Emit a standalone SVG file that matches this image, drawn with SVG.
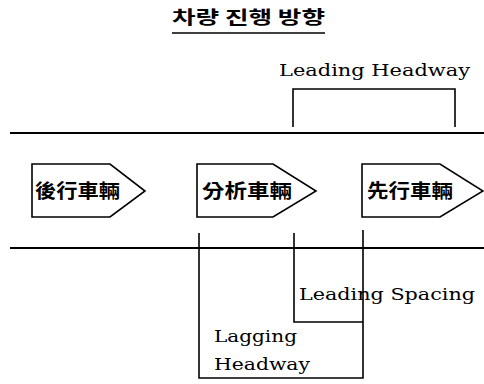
<svg xmlns="http://www.w3.org/2000/svg" width="484" height="384" viewBox="0 0 484 384">
<style>
.ln{stroke:#000;stroke-width:1.6;fill:none}
.road{stroke:#000;stroke-width:2;fill:none}
.car{stroke:#000;stroke-width:1.6;fill:#fff}
.lbl{font-family:"DejaVu Serif","Liberation Serif",serif;font-size:17px;fill:#000}
.cjk{font-family:"Noto Sans CJK TC","Noto Sans CJK KR",sans-serif;font-size:19px;font-weight:bold;fill:#000}
.title{font-family:"Noto Sans CJK KR",sans-serif;font-size:18px;font-weight:bold;fill:#000}
</style>
<rect width="484" height="384" fill="#fff"/>
<g id="title">
<text class="title" x="172" y="24" textLength="153" lengthAdjust="spacingAndGlyphs">차량 진행 방향</text>
<line class="ln" x1="172" y1="33" x2="325" y2="33"/>
</g>
<g id="roads">
<line class="road" x1="10" y1="133" x2="484" y2="133"/>
<line class="road" x1="10" y1="248" x2="484" y2="248"/>
</g>
<g id="car-lagging">
<path class="car" d="M32,164 H110 L145,191 L110,217 H32 Z"/>
<text class="cjk" x="35" y="198" textLength="85" lengthAdjust="spacingAndGlyphs">後行車輛</text>
</g>
<g id="car-subject">
<path class="car" d="M197,164 H273 L316,191 L273,217 H197 Z"/>
<text class="cjk" x="202" y="198" textLength="90" lengthAdjust="spacingAndGlyphs">分析車輛</text>
</g>
<g id="car-leading">
<path class="car" d="M362,164 H440 L483,191 L440,217 H362 Z"/>
<text class="cjk" x="367" y="198" textLength="86" lengthAdjust="spacingAndGlyphs">先行車輛</text>
</g>
<g id="connectors">
<path class="ln" d="M293,127 V89 H455 V127"/>
<path class="ln" d="M199,233 V378 H363 V230"/>
<path class="ln" d="M294,233 V322 H363"/>
</g>
<g id="leading-headway">
<text class="lbl" x="279" y="76" textLength="191" lengthAdjust="spacingAndGlyphs">Leading Headway</text>
</g>
<g id="leading-spacing">
<text class="lbl" x="299" y="300" textLength="176" lengthAdjust="spacingAndGlyphs">Leading Spacing</text>
</g>
<g id="lagging-headway">
<text class="lbl" x="214" y="342" textLength="83" lengthAdjust="spacingAndGlyphs">Lagging</text>
<text class="lbl" x="214" y="370" textLength="96" lengthAdjust="spacingAndGlyphs">Headway</text>
</g>
</svg>
